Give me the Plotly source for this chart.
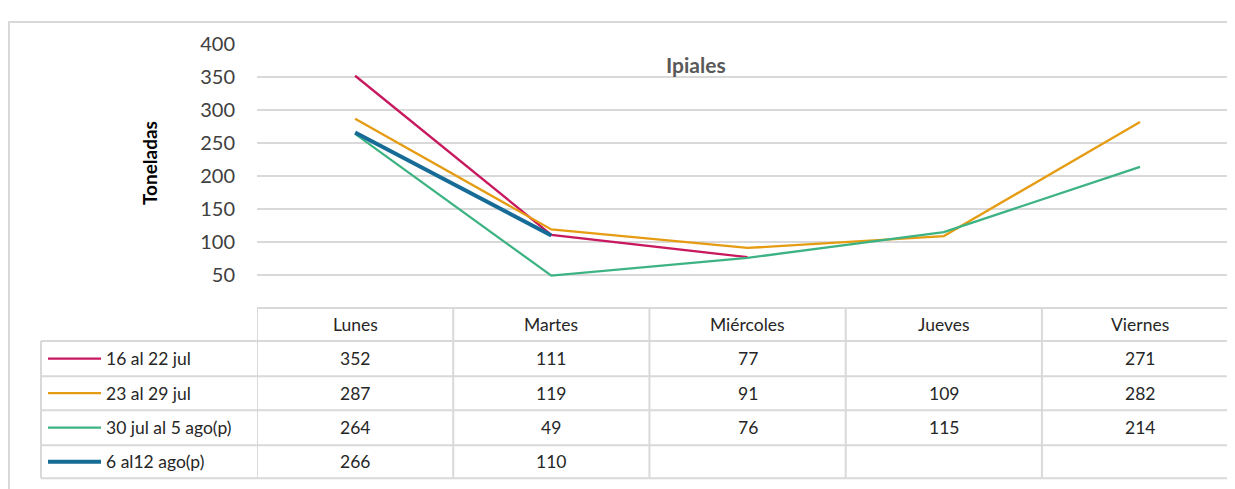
import plotly.graph_objects as go

categories = ["Lunes", "Martes", "Miércoles", "Jueves", "Viernes"]
series_names = ["16 al 22 jul", "23 al 29 jul", "30 jul al 5 ago(p)", "6 al12 ago(p)"]
s1 = [352, 111, 77, None, 271]
s2 = [287, 119, 91, 109, 282]
s3 = [264, 49, 76, 115, 214]
s4 = [266, 110, None, None, None]
y_ticks = [50, 100, 150, 200, 250, 300, 350, 400]

series_values = [s1, s2, s3, s4]
colors = ["#C8185E", "#E59C12", "#3DB383", "#166C96"]
widths = [2.3, 2.3, 2.3, 4]

OFF = 8  # page body margin
W, H = 1235 - OFF, 489 - OFF
FONT = "Lato"
GRID = "#D9D9D9"
TXT = "#262626"


def py(p):  # page pixel y -> paper y
    return 1 - (p - OFF) / H


def px(p):  # page pixel x -> paper x
    return (p - OFF) / W


fig = go.Figure()
xs = list(range(len(categories)))
for name, vals, c, w in zip(series_names, series_values, colors, widths):
    fig.add_trace(go.Scatter(x=xs, y=vals, mode="lines", name=name,
                             line=dict(color=c, width=w), connectgaps=False,
                             showlegend=False))

shapes = []
ann = []

# outer chart border (top/left)
shapes.append(dict(type="line", xref="paper", yref="paper", x0=0, x1=1, y0=py(9), y1=py(9),
                   line=dict(color=GRID, width=2)))
shapes.append(dict(type="line", xref="paper", yref="paper", x0=px(9), x1=px(9), y0=py(9), y1=0,
                   line=dict(color=GRID, width=2)))

# data table grid
row_lines = [337, 373, 408, 444, 478]
shapes.append(dict(type="line", xref="paper", yref="paper", x0=px(257), x1=1, y0=py(303), y1=py(303),
                   line=dict(color=GRID, width=2)))
for r in row_lines:
    shapes.append(dict(type="line", xref="paper", yref="paper", x0=px(41), x1=1, y0=py(r), y1=py(r),
                       line=dict(color=GRID, width=2)))
shapes.append(dict(type="line", xref="paper", yref="paper", x0=px(41), x1=px(41), y0=py(337), y1=py(478),
                   line=dict(color=GRID, width=2)))
for i in range(len(categories)):
    shapes.append(dict(type="line", xref="x", yref="paper", x0=i - 0.5, x1=i - 0.5, y0=py(303), y1=py(478),
                       line=dict(color=GRID, width=2)))

# header
for i, cat in enumerate(categories):
    ann.append(dict(x=i, y=py(320), xref="x", yref="paper", text=cat, showarrow=False,
                    font=dict(family=FONT, size=17.5, color=TXT), xanchor="center", yanchor="middle"))

row_centers = [355, 390.5, 426, 461]
for r, name, vals, c, w in zip(row_centers, series_names, series_values, colors, widths):
    shapes.append(dict(type="line", xref="paper", yref="paper", x0=px(48), x1=px(101), y0=py(r), y1=py(r),
                       line=dict(color=c, width=w)))
    ann.append(dict(x=px(104), y=py(r), xref="paper", yref="paper", text=name, showarrow=False,
                    font=dict(family=FONT, size=17.5, color=TXT), xanchor="left", yanchor="middle"))
    for i, v in enumerate(vals):
        if v is not None:
            ann.append(dict(x=i, y=py(r), xref="x", yref="paper", text=str(v), showarrow=False,
                            font=dict(family=FONT, size=17.5, color=TXT), xanchor="center", yanchor="middle"))

# chart title inside plot
ann.append(dict(x=px(696), y=py(53), xref="paper", yref="paper", text="<b>Ipiales</b>", showarrow=False,
                font=dict(family=FONT, size=21, color="#595959"), xanchor="center", yanchor="middle"))
# y-axis title
ann.append(dict(x=px(149), y=py(154), xref="paper", yref="paper", text="<b>Toneladas</b>", showarrow=False,
                textangle=-90, font=dict(family=FONT, size=19, color="#000000"),
                xanchor="center", yanchor="middle"))

x_right = (1235 - 355) / 196.25

fig.update_layout(
    width=W, height=H,
    margin=dict(l=0, r=0, t=0, b=0),
    paper_bgcolor="white", plot_bgcolor="white",
    xaxis=dict(domain=[px(257), 1], range=[-0.5, x_right], showticklabels=False,
               showgrid=False, zeroline=False, showline=False, fixedrange=True),
    yaxis=dict(domain=[py(303), py(31.7)], range=[0, 400], tickvals=y_ticks,
               ticktext=[str(t) for t in y_ticks],
               showgrid=True, gridcolor=GRID, gridwidth=2, zeroline=False, showline=False,
               tickfont=dict(family=FONT, size=20, color="#404040"), ticks="", ticklabelstandoff=21),
    shapes=shapes, annotations=ann,
    showlegend=False,
)

fig.write_html("out.html")
